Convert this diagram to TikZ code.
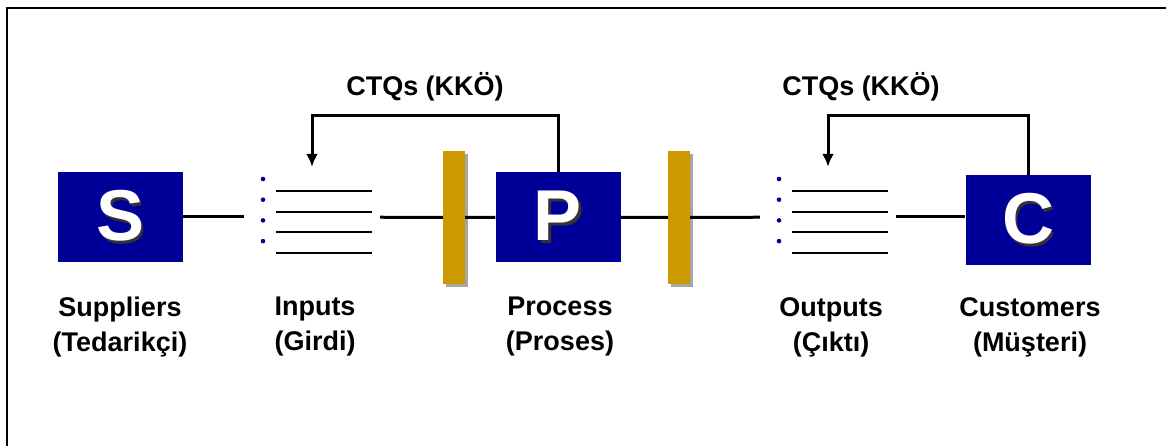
\documentclass[tikz,border=0pt]{standalone}
\usepackage{fontspec}
\setmainfont{Liberation Sans}
\usetikzlibrary{arrows.meta,shadows}
\definecolor{sipocblue}{HTML}{000099}
\definecolor{gatecolor}{HTML}{CC9900}
\newcommand{\shadowletter}[1]{\makebox[0pt][l]{\kern2.5pt\raisebox{-2.5pt}{\color{black!80}#1}}#1}
\tikzset{
  stage/.style={fill=sipocblue, minimum width=125, minimum height=90, inner sep=0,
    text=white, font=\fontsize{72}{72}\selectfont\bfseries},
  gate/.style={fill=gatecolor, minimum width=22, minimum height=133, inner sep=0,
    drop shadow={shadow xshift=3pt, shadow yshift=-3pt, fill=black!35, opacity=1}},
  listholder/.style={minimum width=136, minimum height=100, inner sep=0},
  caption/.style={align=center, font=\fontsize{27}{35}\selectfont\bfseries},
  link/.style={line width=3pt},
  feedback/.style={line width=3pt, -{Latex[length=13pt,width=12pt]}},
  itemlist/.pic={
    \foreach \k in {0,...,3}{
      \fill[sipocblue] (-49,-37+20.7*\k) circle (2.3);
      \draw[line width=2.2pt] (-36,-25+20.7*\k) -- (60,-25+20.7*\k);
    }
  }
}
\begin{document}
\begin{tikzpicture}[x=1pt,y=-1pt]
		\useasboundingbox (0,0) rectangle (1166,446);
		% Frame
		\draw[line width=2pt] (7,446) -- (7,8) -- (1166,8);
		% Chain
		\node[stage] (S) at (120.5,217) {\shadowletter{S}};
		\node[listholder] (in) at (312,217) {};
		\pic at (312,216) {itemlist};
		\node[gate] (gate1) at (454,217.5) {};
		\node[stage] (P) at (558,217) {\shadowletter{P}};
		\node[gate] (gate2) at (679,217.5) {};
		\node[listholder] (out) at (828,217) {};
		\pic at (828,216) {itemlist};
		\node[stage] (C) at (1028,220) {\shadowletter{C}};
		\draw[link] (S) -- (in);
		\draw[link] (in) -- (gate1);
		\draw[link] (gate1) -- (P);
		\draw[link] (P) -- (gate2);
		\draw[link] (gate2) -- (out);
		\draw[link] (out) -- (C.west |- out);
		% CTQ loops
		\node[caption] (ctq1) at (425,87) {CTQs (KKÖ)};
		\node[caption] (ctq2) at (861,87) {CTQs (KKÖ)};
		\coordinate (loop1) at (435,116);
		\coordinate (loop2) at (927,116);
		\draw[feedback] (P.north) |- (loop1) -| (in.north);
		\draw[feedback] (C.north) |- (loop2) -| (out.north);
		% Captions
		\node[caption] (lS) at (120,327) {Suppliers\\(Tedarikçi)};
		\node[caption] (lin) at (315,327) {Inputs\\(Girdi)};
		\node[caption] (lP) at (560,327) {Process\\(Proses)};
		\node[caption] (lout) at (831,327) {Outputs\\(Çıktı)};
		\node[caption] (lC) at (1030,327) {Customers\\(Müşteri)};
	\end{tikzpicture}
\end{document}
